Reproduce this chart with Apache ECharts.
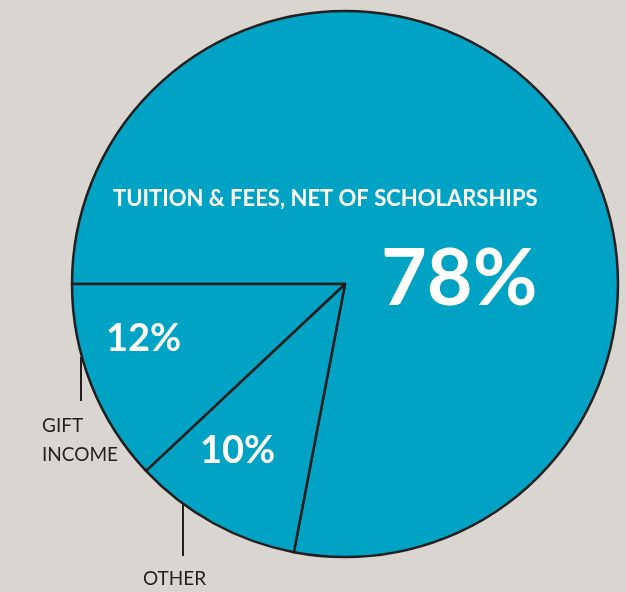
<!DOCTYPE html>
<html>
<head>
<meta charset="utf-8">
<script src="https://cdn.jsdelivr.net/npm/echarts@6/dist/echarts.min.js"></script>
<style>
html,body{margin:0;padding:0;background:#D9D5D1;}
#c{width:626px;height:592px;}
</style>
</head>
<body>
<div id="c"></div>
<script>
const categories = ['TUITION & FEES, NET OF SCHOLARSHIPS', 'OTHER', 'GIFT INCOME'];
const values = [78, 10, 12];

const chart = echarts.init(document.getElementById('c'), null, {renderer: 'canvas'});
const FILL = '#00A3C4';
const EDGE = '#231F20';
const font = 'Lato, "Open Sans", sans-serif';

chart.setOption({
  backgroundColor: '#D9D5D1',
  animation: false,
  series: [{
    type: 'pie',
    center: [345, 284],
    radius: [0, 273],
    startAngle: 180,
    clockwise: true,
    label: {show: false},
    labelLine: {show: false},
    itemStyle: {color: FILL, borderColor: EDGE, borderWidth: 2.5},
    emphasis: {disabled: true},
    data: categories.map((c, i) => ({name: c, value: values[i]}))
  }],
  graphic: [
    {type: 'text', z: 100, left: 113, top: 188, style: {text: categories[0], fill: '#fff', font: 'bold 22px ' + font}},
    {type: 'text', z: 100, left: 381, top: 240, style: {text: values[0] + '%', fill: '#fff', font: 'bold 79px ' + font}},
    {type: 'text', z: 100, left: 106, top: 320, style: {text: values[2] + '%', fill: '#fff', font: 'bold 38px ' + font}},
    {type: 'text', z: 100, left: 200, top: 432, style: {text: values[1] + '%', fill: '#fff', font: 'bold 38px ' + font}},
    {type: 'line', z: 100, shape: {x1: 81, y1: 357, x2: 81, y2: 401}, style: {stroke: EDGE, lineWidth: 2}},
    {type: 'text', z: 100, left: 42, top: 411, style: {text: 'GIFT\nINCOME', fill: EDGE, font: '19px ' + font, lineHeight: 29}},
    {type: 'line', z: 100, shape: {x1: 183, y1: 505, x2: 183, y2: 556}, style: {stroke: EDGE, lineWidth: 2}},
    {type: 'text', z: 100, left: 143, top: 569, style: {text: categories[1], fill: EDGE, font: '19px ' + font}}
  ]
});
</script>
</body>
</html>
